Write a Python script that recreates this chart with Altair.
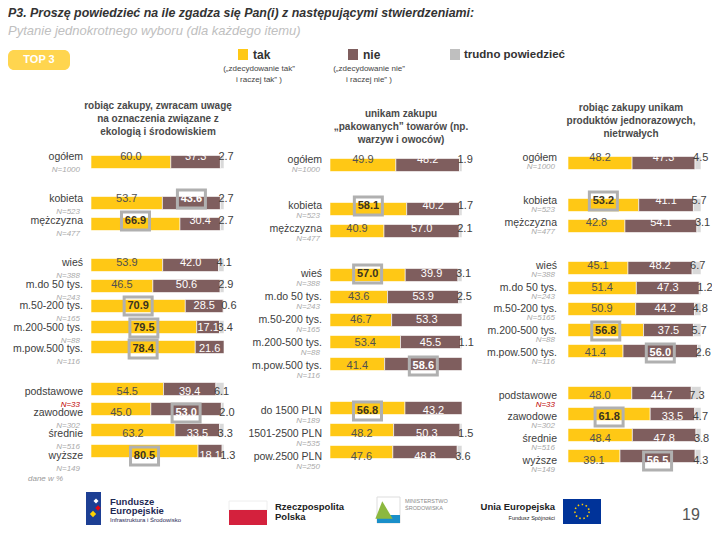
import altair as alt
import pandas as pd

FONT = "Liberation Sans, Arial"
FONT2 = "Liberation Sans, Arial"

SEGMENTS = ["tak", "nie", "trudno"]
SEG_COLORS = ["#ffc815", "#7f5e5e", "#d9d9d9"]

# ---------------- panel 1 ----------------
p1_labels = ["ogółem", "kobieta", "mężczyzna", "wieś", "m.do 50 tys.", "m.50-200 tys.",
             "m.200-500 tys.", "m.pow.500 tys.", "podstawowe", "zawodowe", "średnie", "wyższe"]
p1_n = [1000, 523, 477, 388, 243, 165, 88, 116, 33, 302, 516, 149]
p1_tak = [60.0, 53.7, 66.9, 53.9, 46.5, 70.9, 79.5, 78.4, 54.5, 45.0, 63.2, 80.5]
p1_nie = [37.3, 43.6, 30.4, 42.0, 50.6, 28.5, 17.1, 21.6, 39.4, 53.0, 33.5, 18.1]
p1_trudno = [2.7, 2.7, 2.7, 4.1, 2.9, 0.6, 3.4, 0.0, 6.1, 2.0, 3.3, 1.3]
p1_group = [0, 1, 1, 2, 2, 2, 2, 2, 3, 3, 3, 3]
p1_high = ["", "nie", "tak", "", "", "tak", "tak", "tak", "", "nie", "", "tak"]

# ---------------- panel 2 ----------------
p2_labels = ["ogółem", "kobieta", "mężczyzna", "wieś", "m.do 50 tys.", "m.50-200 tys.",
             "m.200-500 tys.", "m.pow.500 tys.", "do 1500 PLN", "1501-2500 PLN", "pow.2500 PLN"]
p2_n = [1000, 523, 477, 388, 243, 165, 88, 116, 189, 535, 250]
p2_tak = [49.9, 58.1, 40.9, 57.0, 43.6, 46.7, 53.4, 41.4, 56.8, 48.2, 47.6]
p2_nie = [48.2, 40.2, 57.0, 39.9, 53.9, 53.3, 45.5, 58.6, 43.2, 50.3, 48.8]
p2_trudno = [1.9, 1.7, 2.1, 3.1, 2.5, 0.0, 1.1, 0.0, 0.0, 1.5, 3.6]
p2_group = [0, 1, 1, 2, 2, 2, 2, 2, 3, 3, 3]
p2_high = ["", "tak", "", "tak", "", "", "", "nie", "tak", "", ""]

# ---------------- panel 3 ----------------
p3_labels = ["ogółem", "kobieta", "mężczyzna", "wieś", "m.do 50 tys.", "m.50-200 tys.",
             "m.200-500 tys.", "m.pow.500 tys.", "podstawowe", "zawodowe", "średnie", "wyższe"]
p3_n = [1000, 523, 477, 388, 243, 5165, 88, 116, 33, 302, 516, 149]
p3_tak = [48.2, 53.2, 42.8, 45.1, 51.4, 50.9, 56.8, 41.4, 48.0, 61.8, 48.4, 39.1]
p3_nie = [47.3, 41.1, 54.1, 48.2, 47.3, 44.2, 37.5, 56.0, 44.7, 33.5, 47.8, 56.5]
p3_trudno = [4.5, 5.7, 3.1, 6.7, 1.2, 4.8, 5.7, 2.6, 7.3, 4.7, 3.8, 4.3]
p3_group = [0, 1, 1, 2, 2, 2, 2, 2, 3, 3, 3, 3]
p3_high = ["", "tak", "", "", "", "", "tak", "nie", "", "tak", "", "nie"]

headers = [
    ["robiąc zakupy, zwracam uwagę", "na oznaczenia związane z", "ekologią i środowiskiem"],
    ["unikam zakupu", "„pakowanych” towarów (np.", "warzyw i owoców)"],
    ["robiąc zakupy unikam", "produktów jednorazowych,", "nietrwałych"],
]
title_text = "P3. Proszę powiedzieć na ile zgadza się Pan(i) z następującymi stwierdzeniami:"
subtitle_text = "Pytanie jednokrotnego wyboru (dla każdego itemu)"
legend_sub = [["(„zdecydowanie tak”", "i raczej tak” )"], ["(„zdecydowanie nie”", "i raczej nie” )"]]


def frames(labels, ns, tak, nie, trudno, groups, high):
    rows, segs = [], []
    for i in range(len(labels)):
        slot = i + groups[i]
        rows.append({"slot": slot, "label": labels[i], "n": ns[i]})
        start = 0.0
        for seg, v in zip(SEGMENTS, [tak[i], nie[i], trudno[i]]):
            if v > 0:
                segs.append({"slot": slot, "seg": seg, "value": v, "start": start,
                             "end": start + v, "mid": start + v / 2,
                             "txt": f"{v:.1f}", "hi": high[i] == seg})
            start += v
    return pd.DataFrame(rows), pd.DataFrame(segs)


BOX = "M-1.4,-0.9L1.4,-0.9L1.4,0.9L-1.4,0.9Z"
VS = 11


def panel(data, xr, yr, ymax, lab_x, n_x, n_dy):
    rows, segs = data
    xs = alt.Scale(domain=[0, 100], range=xr)
    ys = alt.Scale(domain=[0, ymax], range=yr, round=True)
    X = lambda f: alt.X(f, scale=xs, axis=None)
    Y = alt.Y("slot:Q", scale=ys, axis=None)
    layers = []
    layers.append(alt.Chart(segs).mark_bar(size=13, stroke="white", strokeWidth=0.6).encode(
        x=X("start:Q"), x2="end:Q", y=Y,
        color=alt.Color("seg:N", scale=alt.Scale(domain=SEGMENTS, range=SEG_COLORS), legend=None)))
    layers.append(alt.Chart(segs).transform_filter("datum.hi").mark_point(
        shape=BOX, size=400, filled=False, stroke="#b0b0b0", strokeWidth=3, opacity=1).encode(
        x=X("mid:Q"), y=Y))
    base = alt.Chart(segs)
    layers.append(base.transform_filter("datum.seg == 'tak' && !datum.hi").mark_text(
        font=FONT, fontSize=VS, color="#505050", baseline="middle").encode(x=X("mid:Q"), y=Y, text="txt:N"))
    layers.append(base.transform_filter("datum.seg == 'nie' && !datum.hi").mark_text(
        font=FONT, fontSize=VS, color="#ffffff", baseline="middle").encode(x=X("mid:Q"), y=Y, text="txt:N"))
    layers.append(base.transform_filter("datum.seg == 'tak' && datum.hi").mark_text(
        font=FONT, fontSize=VS, fontWeight="bold", color="#3a3320", baseline="middle").encode(
        x=X("mid:Q"), y=Y, text="txt:N"))
    layers.append(base.transform_filter("datum.seg == 'nie' && datum.hi").mark_text(
        font=FONT, fontSize=VS, fontWeight="bold", color="#ffffff", baseline="middle").encode(
        x=X("mid:Q"), y=Y, text="txt:N"))
    layers.append(base.transform_filter("datum.seg == 'trudno'").mark_text(
        font=FONT, fontSize=VS, color="#404040", align="left", baseline="middle", dx=-2).encode(
        x=X("start:Q"), y=Y, text="txt:N"))
    rb = alt.Chart(rows)
    layers.append(rb.mark_text(font=FONT, fontSize=10.5, color="#404040", align="right",
                               baseline="middle").encode(x=alt.value(lab_x), y=Y, text="label:N"))
    layers.append(rb.transform_calculate(nt="'N=' + datum.n").mark_text(
        font=FONT2, fontSize=8, fontStyle="italic", align="right", baseline="middle", dy=n_dy).encode(
        x=alt.value(n_x), y=Y, text="nt:N",
        color=alt.condition("datum.n < 50", alt.value("#c00000"), alt.value("#aaaaaa"))))
    return layers


one = pd.DataFrame({"d": [0]})


def T(text, x, y, size=10, weight="normal", style="normal", color="#333333", align="left",
      baseline="middle", font=FONT2, lh=None):
    kw = dict(text=text, fontSize=size, fontWeight=weight, fontStyle=style, color=color,
              align=align, baseline=baseline, font=font)
    if lh:
        kw["lineHeight"] = lh
    return alt.Chart(one).mark_text(**kw).encode(x=alt.value(x), y=alt.value(y))


def R(x, x2, y, y2, color, **kw):
    return alt.Chart(one).mark_rect(color=color, **kw).encode(
        x=alt.value(x), x2=alt.value(x2), y=alt.value(y), y2=alt.value(y2))


def P(x, y, **kw):
    return alt.Chart(one).mark_point(**kw).encode(x=alt.value(x), y=alt.value(y))


layers = []
# header
layers.append(T(title_text, 0, 5, size=12.4, weight="bold", style="italic", color="#333333"))
layers.append(T(subtitle_text, 0, 23, size=13, style="italic", color="#c0c0c0"))
layers.append(R(0, 62, 42, 62, "#ffd54f", cornerRadius=6))
layers.append(T("TOP 3", 31, 52, size=11, weight="bold", color="#ffffff", align="center"))
# legend
layers.append(R(230, 240, 41, 52, SEG_COLORS[0]))
layers.append(T("tak", 245, 47, size=12, weight="bold", color="#333333"))
layers.append(T(legend_sub[0], 251, 57, size=8, color="#444444", align="center", baseline="top", lh=11))
layers.append(R(340, 350, 41, 52, SEG_COLORS[1]))
layers.append(T("nie", 355, 47, size=12, weight="bold", color="#333333"))
layers.append(T(legend_sub[1], 361, 57, size=8, color="#444444", align="center", baseline="top", lh=11))
layers.append(R(442, 452, 41, 52, "#bfbfbf"))
layers.append(T("trudno powiedzieć", 456, 47, size=11.5, weight="bold", color="#333333"))
# column headers
layers.append(T(headers[0], 150, 93, size=10, weight="bold", color="#4a4a4a", align="center", baseline="top", lh=13))
layers.append(T(headers[1], 393, 101, size=10, weight="bold", color="#4a4a4a", align="center", baseline="top", lh=13))
layers.append(T(headers[2], 623, 95, size=10, weight="bold", color="#4a4a4a", align="center", baseline="top", lh=13))

# panels
layers += panel(frames(p1_labels, p1_n, p1_tak, p1_nie, p1_trudno, p1_group, p1_high),
                [83, 216], [148.7, 447.7], 14, 75, 72, 13)
layers += panel(frames(p2_labels, p2_n, p2_tak, p2_nie, p2_trudno, p2_group, p2_high),
                [322, 454], [152, 449], 13, 314, 312, 10)
layers += panel(frames(p3_labels, p3_n, p3_tak, p3_nie, p3_trudno, p3_group, p3_high),
                [560, 693], [150, 452.7], 14, 549, 547, 9)

layers.append(T("dane w %", 20, 471, size=8, style="italic", color="#9a9a9a"))

# footer logos
layers.append(R(78, 93, 484, 517, "#1d3f94"))
layers.append(P(85, 506, shape="diamond", size=40, filled=True, color="#ffd200", opacity=1))
layers.append(P(90, 500, shape="diamond", size=30, filled=True, color="#e30613", opacity=1))
layers.append(P(88, 493, shape="diamond", size=25, filled=True, color="#ffffff", opacity=1))
layers.append(T("Fundusze", 102, 494, size=9.5, weight="bold", color="#1f2a55"))
layers.append(T("Europejskie", 102, 503, size=9.5, weight="bold", color="#1f2a55"))
layers.append(T("Infrastruktura i Środowisko", 102, 512, size=6, color="#1f2a55"))
layers.append(R(221, 259, 493, 502, "#ffffff", stroke="#eeeeee"))
layers.append(R(221, 259, 502, 517, "#d4213d"))
layers.append(T("Rzeczpospolita", 267, 499, size=9.5, weight="bold", color="#222222"))
layers.append(T("Polska", 267, 509, size=9.5, weight="bold", color="#222222"))
layers.append(R(369, 392, 489, 515, "#ffffff", stroke="#dddddd"))
layers.append(R(369, 392, 507, 515, "#1a8fc9"))
layers.append(P(376, 502, shape="M-1,1L-0.2,-1L1,1Z", size=300, filled=True, color="#8cb83f", opacity=1))
layers.append(T("MINISTERSTWO", 397, 493, size=5.5, color="#8a8a8a"))
layers.append(T("ŚRODOWISKA", 397, 500, size=5.5, color="#8a8a8a"))
layers.append(T("Unia Europejska", 547, 499, size=9.5, weight="bold", color="#222222", align="right"))
layers.append(T("Fundusz Spójności", 547, 510, size=5.5, color="#222222", align="right"))
layers.append(R(555, 593, 491, 516, "#003399"))
layers.append(P(574, 503.5, shape="circle", size=200, filled=False, color="#ffcc00",
                strokeWidth=1.6, strokeDash=[1.5, 2.6], opacity=1))
layers.append(T("19", 683, 507, size=16, color="#555555", align="center"))

chart = alt.layer(*layers).resolve_scale(x="independent", y="independent", color="independent").properties(
    width=704, height=524, autosize=alt.AutoSizeParams(type="none"), padding=0,
    background="white"
).configure_view(stroke=None)

chart.save("out.html", embed_options={"renderer": "svg", "actions": False})
